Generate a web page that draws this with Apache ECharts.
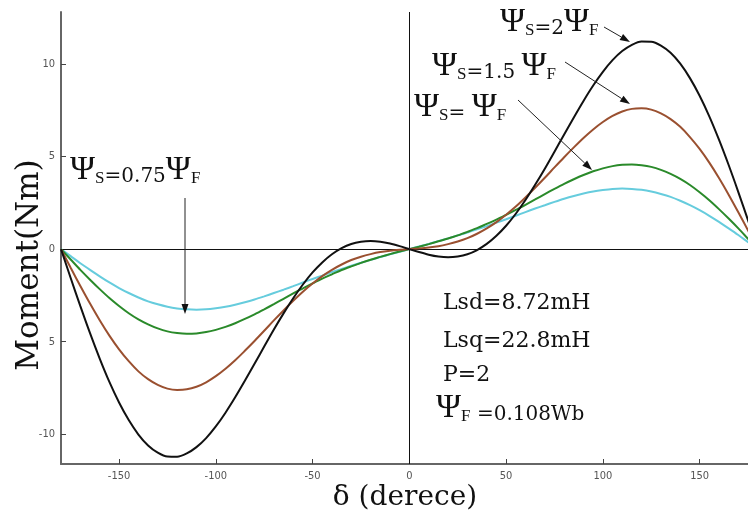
<!DOCTYPE html>
<html><head><meta charset="utf-8">
<script src="https://cdn.jsdelivr.net/npm/echarts@6/dist/echarts.min.js"></script>
<style>html,body{margin:0;padding:0;background:#fff}#c{width:748px;height:516px}</style>
</head><body><div id="c"></div><script>
// delta (degrees)
const deltas = [-180,-175,-170,-165,-160,-155,-150,-145,-140,-135,-130,-125,-120,-115,-110,-105,-100,-95,-90,-85,-80,-75,-70,-65,-60,-55,-50,-45,-40,-35,-30,-25,-20,-15,-10,-5,
  0,5,10,15,20,25,30,35,40,45,50,55,60,65,70,75,80,85,90,95,100,105,110,115,120,125,130,135,140,145,150,155,160,165,170,175,180];
// Moment (Nm) for each stator flux case
const psi2 = [0,-1.56,-3.08,-4.54,-5.91,-7.17,-8.28,-9.23,-10.01,-10.60,-10.99,-11.20,-11.21,-11.03,-10.69,-10.20,-9.57,-8.83,-8.0,-7.11,-6.19,-5.26,-4.34,-3.47,-2.65,-1.91,-1.26,-0.72,-0.28,0.05,0.28,0.40,0.44,0.40,0.30,0.16,
  0,-0.16,-0.30,-0.40,-0.44,-0.40,-0.28,-0.05,0.28,0.72,1.26,1.91,2.65,3.47,4.34,5.26,6.19,7.11,8.0,8.83,9.57,10.20,10.69,11.03,11.21,11.20,10.99,10.60,10.01,9.23,8.28,7.17,5.91,4.54,3.08,1.56,0];
const psi15 = [0,-1.01,-1.99,-2.94,-3.84,-4.67,-5.41,-6.05,-6.60,-7.02,-7.33,-7.53,-7.60,-7.57,-7.43,-7.19,-6.86,-6.46,-6.0,-5.49,-4.96,-4.41,-3.85,-3.31,-2.79,-2.30,-1.86,-1.46,-1.12,-0.83,-0.59,-0.41,-0.27,-0.16,-0.09,-0.04,
  0,0.04,0.09,0.16,0.27,0.41,0.59,0.83,1.12,1.46,1.86,2.30,2.79,3.31,3.85,4.41,4.96,5.49,6.0,6.46,6.86,7.19,7.43,7.57,7.60,7.53,7.33,7.02,6.60,6.05,5.41,4.67,3.84,2.94,1.99,1.01,0];
const psi1 = [0,-0.56,-1.12,-1.65,-2.16,-2.64,-3.07,-3.46,-3.79,-4.06,-4.28,-4.44,-4.53,-4.57,-4.55,-4.48,-4.36,-4.20,-4.0,-3.77,-3.52,-3.25,-2.97,-2.68,-2.39,-2.12,-1.85,-1.59,-1.36,-1.13,-0.93,-0.74,-0.57,-0.42,-0.27,-0.13,
  0,0.13,0.27,0.42,0.57,0.74,0.93,1.13,1.36,1.59,1.85,2.12,2.39,2.68,2.97,3.25,3.52,3.77,4.0,4.20,4.36,4.48,4.55,4.57,4.53,4.44,4.28,4.06,3.79,3.46,3.07,2.64,2.16,1.65,1.12,0.56,0];
const psi075 = [0,-0.38,-0.76,-1.12,-1.47,-1.80,-2.10,-2.37,-2.61,-2.82,-2.98,-3.11,-3.20,-3.25,-3.27,-3.25,-3.19,-3.11,-3.0,-2.87,-2.72,-2.55,-2.37,-2.19,-2.00,-1.80,-1.61,-1.43,-1.24,-1.07,-0.90,-0.74,-0.58,-0.43,-0.28,-0.14,
  0,0.14,0.28,0.43,0.58,0.74,0.90,1.07,1.24,1.43,1.61,1.80,2.00,2.19,2.37,2.55,2.72,2.87,3.0,3.11,3.19,3.25,3.27,3.25,3.20,3.11,2.98,2.82,2.61,2.37,2.10,1.80,1.47,1.12,0.76,0.38,0];
const xTicks = [-150,-100,-50,0,50,100,150];
const yTicks = [-10,-5,0,5,10];
const yTickLabels = ['-10','5','0','5','10'];
const paramLines = ['Lsd=8.72mH','Lsq=22.8mH','P=2'];

const pairs = ys => deltas.map((d,i)=>[d, ys[i]]);
const chart = echarts.init(document.getElementById('c'), null, {renderer:'canvas'});
const tickFont = "'Liberation Sans Narrow','DejaVu Sans Condensed',sans-serif";
const lserif = "'Liberation Serif',serif";
const dserif = "'DejaVu Serif',serif";

const rich = {
  p:{fontFamily:lserif,fontSize:34,lineHeight:34,verticalAlign:'bottom',color:'#111'},
  t:{fontFamily:dserif,fontSize:20,lineHeight:27,verticalAlign:'bottom',color:'#111'},
  s:{fontFamily:lserif,fontSize:17,lineHeight:10,verticalAlign:'bottom',color:'#111'}
};
function psiLabel(x,y,txt){
  return {type:'text',left:x,top:y,z:10,style:{text:txt,rich:rich,fill:'#111'}};
}
function arrow(x1,y1,x2,y2){
  const a=Math.atan2(y2-y1,x2-x1), L=10, W=3.5;
  const bx=x2-L*Math.cos(a), by=y2-L*Math.sin(a);
  return [
    {type:'line',z:10,shape:{x1:x1,y1:y1,x2:bx,y2:by},style:{stroke:'#222',lineWidth:1}},
    {type:'polygon',z:10,shape:{points:[[x2,y2],[bx-W*Math.sin(a),by+W*Math.cos(a)],[bx+W*Math.sin(a),by-W*Math.cos(a)]]},style:{fill:'#111'}}
  ];
}
const graphics = [
  {type:'text',x:30,y:265,rotation:Math.PI/2,z:10,style:{text:'Moment(Nm)',font:"31px 'DejaVu Serif',serif",fill:'#111',align:'center',verticalAlign:'middle'}},
  {type:'text',x:405,y:498,z:10,style:{text:'δ (derece)',font:"28px 'DejaVu Serif',serif",fill:'#111',align:'center',verticalAlign:'middle'}},
  psiLabel(500,5,'{p|Ψ}{s|S}{t|=2}{p|Ψ}{s|F}'),
  psiLabel(432,49,'{p|Ψ}{s|S}{t|=1.5 }{p|Ψ}{s|F}'),
  psiLabel(414,90,'{p|Ψ}{s|S}{t|= }{p|Ψ}{s|F}'),
  psiLabel(70,153,'{p|Ψ}{s|S}{t|=0.75}{p|Ψ}{s|F}'),
  ...arrow(604,27,630,42),
  ...arrow(565,62,630,104),
  ...arrow(518,100,592,170),
  ...arrow(185,198,185,314),
  {type:'text',left:443,top:292,z:10,style:{text:paramLines[0],font:"22px 'DejaVu Serif',serif",fill:'#111'}},
  {type:'text',left:443,top:330,z:10,style:{text:paramLines[1],font:"22px 'DejaVu Serif',serif",fill:'#111'}},
  {type:'text',left:443,top:364,z:10,style:{text:paramLines[2],font:"22px 'DejaVu Serif',serif",fill:'#111'}},
  psiLabel(436,391,'{p|Ψ}{s|F}{t| =0.108Wb}')
];

const mk = (name,ys,color,z)=>({type:'line',name:name,data:pairs(ys),smooth:0.3,showSymbol:false,symbol:'none',z:z,
  lineStyle:{color:color,width:2},itemStyle:{color:color}});

chart.setOption({
  animation:false,
  backgroundColor:'#fff',
  grid:{left:61,right:0,top:12,bottom:52,containLabel:false},
  xAxis:{type:'value',min:-180,max:175,
    axisLine:{onZero:false,lineStyle:{color:'#666',width:2}},
    axisTick:{inside:true,length:5,customValues:xTicks,lineStyle:{color:'#444',width:1}},
    axisLabel:{customValues:xTicks,color:'#555',fontSize:11,fontFamily:tickFont,margin:7},
    splitLine:{show:false}},
  yAxis:{type:'value',min:-11.6,max:12.8,
    axisLine:{show:true,onZero:false,lineStyle:{color:'#666',width:2}},
    axisTick:{show:true,inside:true,length:5,customValues:yTicks,lineStyle:{color:'#444',width:1}},
    axisLabel:{customValues:yTicks,color:'#555',fontSize:11,fontFamily:tickFont,margin:6,
      formatter:v=>yTickLabels[yTicks.indexOf(Math.round(v))]},
    splitLine:{show:false}},
  series:[
    Object.assign(mk('ΨS=0.75ΨF',psi075,'#66ccdd',4),{markLine:{silent:true,symbol:'none',label:{show:false},
      lineStyle:{color:'#111',width:1,type:'solid'},data:[{yAxis:0},{xAxis:0}]}}),
    mk('ΨS=ΨF',psi1,'#2a8a2a',5),
    mk('ΨS=1.5ΨF',psi15,'#9a5030',6),
    mk('ΨS=2ΨF',psi2,'#111111',7)
  ],
  graphic:graphics
});
</script></body></html>
